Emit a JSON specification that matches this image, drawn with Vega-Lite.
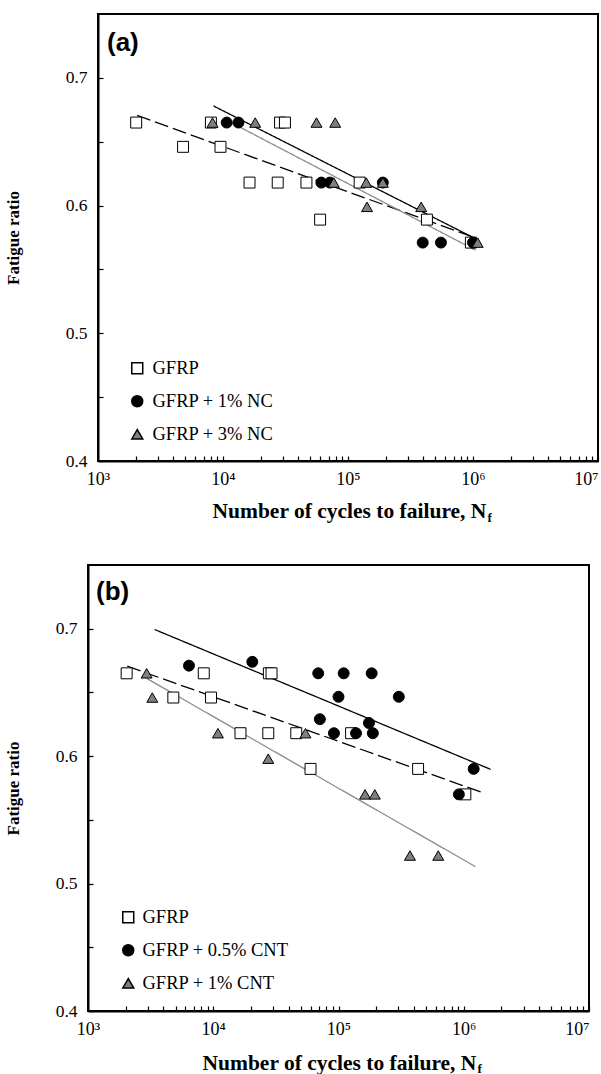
{
  "$schema": "https://vega.github.io/schema/vega-lite/v6.json",
  "background": "white",
  "padding": {"left": 3, "top": 11, "right": 0, "bottom": 0},
  "spacing": 39,
  "datasets": {
    "linesA": [
      {"s": "GFRP", "N": 2055, "r": 0.6706}, {"s": "GFRP", "N": 960000, "r": 0.576},
      {"s": "GFRP + 1% NC", "N": 8400, "r": 0.678}, {"s": "GFRP + 1% NC", "N": 1050000, "r": 0.574},
      {"s": "GFRP + 3% NC", "N": 11100, "r": 0.666}, {"s": "GFRP + 3% NC", "N": 1050000, "r": 0.565}
    ],
    "ptsA": [
      {"s": "GFRP", "N": 2020, "r": 0.665}, {"s": "GFRP", "N": 4790, "r": 0.646}, {"s": "GFRP", "N": 9550, "r": 0.646},
      {"s": "GFRP", "N": 8000, "r": 0.665}, {"s": "GFRP", "N": 28600, "r": 0.665}, {"s": "GFRP", "N": 31300, "r": 0.665},
      {"s": "GFRP", "N": 16300, "r": 0.618}, {"s": "GFRP", "N": 27400, "r": 0.618}, {"s": "GFRP", "N": 46500, "r": 0.618},
      {"s": "GFRP", "N": 59800, "r": 0.589}, {"s": "GFRP", "N": 124000, "r": 0.618}, {"s": "GFRP", "N": 428000, "r": 0.589},
      {"s": "GFRP", "N": 962000, "r": 0.571},
      {"s": "GFRP + 1% NC", "N": 10700, "r": 0.665}, {"s": "GFRP + 1% NC", "N": 13300, "r": 0.665},
      {"s": "GFRP + 1% NC", "N": 61200, "r": 0.618}, {"s": "GFRP + 1% NC", "N": 71500, "r": 0.618},
      {"s": "GFRP + 1% NC", "N": 190000, "r": 0.618}, {"s": "GFRP + 1% NC", "N": 396000, "r": 0.571},
      {"s": "GFRP + 1% NC", "N": 554000, "r": 0.571}, {"s": "GFRP + 1% NC", "N": 1000000, "r": 0.571},
      {"s": "GFRP + 3% NC", "N": 8250, "r": 0.665}, {"s": "GFRP + 3% NC", "N": 18100, "r": 0.665},
      {"s": "GFRP + 3% NC", "N": 56000, "r": 0.665}, {"s": "GFRP + 3% NC", "N": 79000, "r": 0.665},
      {"s": "GFRP + 3% NC", "N": 77000, "r": 0.618}, {"s": "GFRP + 3% NC", "N": 140000, "r": 0.618},
      {"s": "GFRP + 3% NC", "N": 190000, "r": 0.618}, {"s": "GFRP + 3% NC", "N": 142000, "r": 0.599},
      {"s": "GFRP + 3% NC", "N": 385000, "r": 0.599}, {"s": "GFRP + 3% NC", "N": 1090000, "r": 0.571}
    ],
    "linesB": [
      {"s": "GFRP", "N": 2060, "r": 0.6706}, {"s": "GFRP", "N": 1450000, "r": 0.571},
      {"s": "GFRP + 0.5% CNT", "N": 3400, "r": 0.6994}, {"s": "GFRP + 0.5% CNT", "N": 1640000, "r": 0.5896},
      {"s": "GFRP + 1% CNT", "N": 2940, "r": 0.661}, {"s": "GFRP + 1% CNT", "N": 1240000, "r": 0.5133}
    ],
    "ptsB": [
      {"s": "GFRP", "N": 2035, "r": 0.665}, {"s": "GFRP", "N": 8400, "r": 0.665}, {"s": "GFRP", "N": 27800, "r": 0.665},
      {"s": "GFRP", "N": 29200, "r": 0.665}, {"s": "GFRP", "N": 4800, "r": 0.646}, {"s": "GFRP", "N": 9600, "r": 0.646},
      {"s": "GFRP", "N": 16500, "r": 0.618}, {"s": "GFRP", "N": 27500, "r": 0.618}, {"s": "GFRP", "N": 46000, "r": 0.618},
      {"s": "GFRP", "N": 59800, "r": 0.59}, {"s": "GFRP", "N": 126000, "r": 0.618}, {"s": "GFRP", "N": 432000, "r": 0.59},
      {"s": "GFRP", "N": 1030000, "r": 0.57},
      {"s": "GFRP + 0.5% CNT", "N": 6400, "r": 0.671}, {"s": "GFRP + 0.5% CNT", "N": 20500, "r": 0.674},
      {"s": "GFRP + 0.5% CNT", "N": 68900, "r": 0.665}, {"s": "GFRP + 0.5% CNT", "N": 110000, "r": 0.665},
      {"s": "GFRP + 0.5% CNT", "N": 184000, "r": 0.665}, {"s": "GFRP + 0.5% CNT", "N": 100000, "r": 0.6466},
      {"s": "GFRP + 0.5% CNT", "N": 303000, "r": 0.6466}, {"s": "GFRP + 0.5% CNT", "N": 71000, "r": 0.629},
      {"s": "GFRP + 0.5% CNT", "N": 92000, "r": 0.618}, {"s": "GFRP + 0.5% CNT", "N": 138000, "r": 0.618},
      {"s": "GFRP + 0.5% CNT", "N": 175000, "r": 0.626}, {"s": "GFRP + 0.5% CNT", "N": 188000, "r": 0.618},
      {"s": "GFRP + 0.5% CNT", "N": 1200000, "r": 0.59}, {"s": "GFRP + 0.5% CNT", "N": 914000, "r": 0.57},
      {"s": "GFRP + 1% CNT", "N": 2940, "r": 0.665}, {"s": "GFRP + 1% CNT", "N": 3260, "r": 0.646},
      {"s": "GFRP + 1% CNT", "N": 10900, "r": 0.618}, {"s": "GFRP + 1% CNT", "N": 54500, "r": 0.618},
      {"s": "GFRP + 1% CNT", "N": 27500, "r": 0.598}, {"s": "GFRP + 1% CNT", "N": 163000, "r": 0.57},
      {"s": "GFRP + 1% CNT", "N": 195000, "r": 0.57}, {"s": "GFRP + 1% CNT", "N": 372000, "r": 0.522},
      {"s": "GFRP + 1% CNT", "N": 626000, "r": 0.522}
    ]
  },
  "vconcat": [
    {
      "bounds": "flush",
      "spacing": 9,
      "hconcat": [
        {
          "width": 1,
          "height": 1,
          "view": {"stroke": null},
          "data": {"values": [{"k": 0}]},
          "mark": {"type": "point", "opacity": 0}
        },
        {
          "width": 500,
          "height": 447,
          "title": {"text": "(a)", "anchor": "start", "frame": "group", "orient": "top", "offset": -42, "dx": 9, "font": "Liberation Sans", "fontSize": 26, "fontWeight": "bold", "color": "black"},
          "layer": [
            {
              "data": {"name": "linesA"},
              "mark": {"type": "line", "strokeWidth": 1.3},
              "encoding": {
                "x": {"field": "N", "type": "quantitative", "scale": {"type": "log", "domain": [1000, 10000000], "nice": false},
                  "axis": {"values": [1000,2000,3000,4000,5000,6000,7000,8000,9000,10000,20000,30000,40000,50000,60000,70000,80000,90000,100000,200000,300000,400000,500000,600000,700000,800000,900000,1000000,2000000,3000000,4000000,5000000,6000000,7000000,8000000,9000000,10000000],
                    "labelExpr": "datum.value == 1000 ? '10³' : datum.value == 10000 ? '10⁴' : datum.value == 100000 ? '10⁵' : datum.value == 1000000 ? '10⁶' : datum.value == 10000000 ? '10⁷' : ''",
                    "labelAlign": {"condition": {"test": "datum.value == 10000000", "value": "right"}, "value": "center"},
                    "labelFlush": false, "labelOverlap": false, "orient": "bottom", "grid": false,
                    "domainColor": "black", "domainWidth": 2, "tickColor": "black", "tickWidth": 1.2, "tickSize": -5,
                    "labelFont": "Liberation Serif", "labelFontSize": 18, "labelColor": "black", "labelPadding": 14,
                    "title": "Number of cycles to failure, N", "titleX": 114, "titleY": 56, "titleAlign": "left", "titleBaseline": "alphabetic",
                    "titleFont": "Liberation Serif", "titleFontWeight": "bold", "titleFontSize": 21.5, "titleColor": "black"}},
                "y": {"field": "r", "type": "quantitative", "scale": {"domain": [0.4, 0.75], "nice": false, "zero": false},
                  "axis": {"values": [0.4, 0.45, 0.5, 0.55, 0.6, 0.65, 0.7], "labelExpr": "abs(round(datum.value*10) - datum.value*10) < 0.01 ? format(datum.value, '.1f') : ''",
                    "labelFlush": false, "labelOverlap": false, "grid": false,
                    "domainColor": "black", "domainWidth": 2, "tickColor": "black", "tickWidth": 1.2, "tickSize": -5,
                    "labelFont": "Liberation Serif", "labelFontSize": 17.5, "labelColor": "black", "labelPadding": 16,
                    "title": "Fatigue ratio", "titleX": -76, "titleFont": "Liberation Serif", "titleFontWeight": "bold", "titleFontSize": 17, "titleColor": "black"}},
                "detail": {"field": "s"},
                "stroke": {"field": "s", "type": "nominal", "scale": {"domain": ["GFRP + 3% NC", "GFRP", "GFRP + 1% NC"], "range": ["#8c8c8c", "black", "black"]}, "legend": null},
                "strokeDash": {"field": "s", "type": "nominal", "scale": {"domain": ["GFRP + 3% NC", "GFRP", "GFRP + 1% NC"], "range": [[1, 0], [14, 5], [1, 0]]}, "legend": null}
              }
            },
            {
              "data": {"name": "ptsA"},
              "mark": {"type": "point", "filled": true, "opacity": 1, "stroke": "black", "strokeWidth": 1, "size": 120},
              "encoding": {
                "x": {"field": "N", "type": "quantitative",
                  "axis": {"orient": "bottom", "domain": false, "ticks": false, "labels": false, "grid": false, "title": "f", "titleX": 389, "titleY": 60, "titleAlign": "left", "titleBaseline": "alphabetic",
                    "titleFont": "Liberation Serif", "titleFontWeight": "bold", "titleFontSize": 13, "titleColor": "black"}},
                "y": {"field": "r", "type": "quantitative"},
                "shape": {"field": "s", "type": "nominal", "scale": {"domain": ["GFRP", "GFRP + 1% NC", "GFRP + 3% NC"], "range": ["square", "circle", "triangle-up"]},
                  "legend": {"title": null, "orient": "none", "legendX": 30, "legendY": 345, "rowPadding": 14, "padding": 0, "labelOffset": 6,
                    "labelFont": "Liberation Serif", "labelFontSize": 18.5, "labelColor": "black", "symbolSize": 120,
                    "encode": {"symbols": {"update": {"stroke": {"value": "black"}, "strokeWidth": {"value": 1}}}}}},
                "fill": {"field": "s", "type": "nominal", "scale": {"domain": ["GFRP", "GFRP + 1% NC", "GFRP + 3% NC"], "range": ["white", "black", "#7f7f7f"]},
                  "legend": {"title": null, "orient": "none", "legendX": 30, "legendY": 345, "rowPadding": 14, "padding": 0, "labelOffset": 6,
                    "labelFont": "Liberation Serif", "labelFontSize": 18.5, "labelColor": "black", "symbolSize": 120,
                    "encode": {"symbols": {"update": {"stroke": {"value": "black"}, "strokeWidth": {"value": 1}}}}}}
              }
            }
          ],
          "resolve": {"axis": {"x": "independent"}}
        }
      ],
      "resolve": {"scale": {"fill": "independent", "shape": "independent", "stroke": "independent", "strokeDash": "independent"}}
    },
    {
      "width": 501,
      "height": 446,
      "title": {"text": "(b)", "anchor": "start", "frame": "group", "orient": "top", "offset": -40, "dx": 8, "font": "Liberation Sans", "fontSize": 26, "fontWeight": "bold", "color": "black"},
      "layer": [
        {
          "data": {"name": "linesB"},
          "mark": {"type": "line", "strokeWidth": 1.3},
          "encoding": {
            "x": {"field": "N", "type": "quantitative", "scale": {"type": "log", "domain": [1000, 10000000], "nice": false},
              "axis": {"values": [1000,2000,3000,4000,5000,6000,7000,8000,9000,10000,20000,30000,40000,50000,60000,70000,80000,90000,100000,200000,300000,400000,500000,600000,700000,800000,900000,1000000,2000000,3000000,4000000,5000000,6000000,7000000,8000000,9000000,10000000],
                "labelExpr": "datum.value == 1000 ? '10³' : datum.value == 10000 ? '10⁴' : datum.value == 100000 ? '10⁵' : datum.value == 1000000 ? '10⁶' : datum.value == 10000000 ? '10⁷' : ''",
                "labelAlign": {"condition": {"test": "datum.value == 10000000", "value": "right"}, "value": "center"},
                "labelFlush": false, "labelOverlap": false, "orient": "bottom", "grid": false,
                "domainColor": "black", "domainWidth": 2, "tickColor": "black", "tickWidth": 1.2, "tickSize": -5,
                "labelFont": "Liberation Serif", "labelFontSize": 18, "labelColor": "black", "labelPadding": 14,
                "title": "Number of cycles to failure, N", "titleX": 114, "titleY": 58, "titleAlign": "left", "titleBaseline": "alphabetic",
                "titleFont": "Liberation Serif", "titleFontWeight": "bold", "titleFontSize": 21.5, "titleColor": "black"}},
            "y": {"field": "r", "type": "quantitative", "scale": {"domain": [0.4, 0.75], "nice": false, "zero": false},
              "axis": {"values": [0.4, 0.45, 0.5, 0.55, 0.6, 0.65, 0.7], "labelExpr": "abs(round(datum.value*10) - datum.value*10) < 0.01 ? format(datum.value, '.1f') : ''",
                "labelFlush": false, "labelOverlap": false, "grid": false,
                "domainColor": "black", "domainWidth": 2, "tickColor": "black", "tickWidth": 1.2, "tickSize": -5,
                "labelFont": "Liberation Serif", "labelFontSize": 17.5, "labelColor": "black", "labelPadding": 16,
                "title": "Fatigue ratio", "titleX": -66, "titleFont": "Liberation Serif", "titleFontWeight": "bold", "titleFontSize": 17, "titleColor": "black"}},
            "detail": {"field": "s"},
            "stroke": {"field": "s", "type": "nominal", "scale": {"domain": ["GFRP + 1% CNT", "GFRP", "GFRP + 0.5% CNT"], "range": ["#8c8c8c", "black", "black"]}, "legend": null},
            "strokeDash": {"field": "s", "type": "nominal", "scale": {"domain": ["GFRP + 1% CNT", "GFRP", "GFRP + 0.5% CNT"], "range": [[1, 0], [14, 5], [1, 0]]}, "legend": null}
          }
        },
        {
          "data": {"name": "ptsB"},
          "mark": {"type": "point", "filled": true, "opacity": 1, "stroke": "black", "strokeWidth": 1, "size": 120},
          "encoding": {
            "x": {"field": "N", "type": "quantitative",
              "axis": {"orient": "bottom", "domain": false, "ticks": false, "labels": false, "grid": false, "title": "f", "titleX": 389, "titleY": 61, "titleAlign": "left", "titleBaseline": "alphabetic",
                "titleFont": "Liberation Serif", "titleFontWeight": "bold", "titleFontSize": 13, "titleColor": "black"}},
            "y": {"field": "r", "type": "quantitative"},
            "shape": {"field": "s", "type": "nominal", "scale": {"domain": ["GFRP", "GFRP + 0.5% CNT", "GFRP + 1% CNT"], "range": ["square", "circle", "triangle-up"]},
              "legend": {"title": null, "orient": "none", "legendX": 31, "legendY": 343, "rowPadding": 14, "padding": 0, "labelOffset": 5,
                "labelFont": "Liberation Serif", "labelFontSize": 18.5, "labelColor": "black", "symbolSize": 120,
                "encode": {"symbols": {"update": {"stroke": {"value": "black"}, "strokeWidth": {"value": 1}}}}}},
            "fill": {"field": "s", "type": "nominal", "scale": {"domain": ["GFRP", "GFRP + 0.5% CNT", "GFRP + 1% CNT"], "range": ["white", "black", "#7f7f7f"]},
              "legend": {"title": null, "orient": "none", "legendX": 31, "legendY": 343, "rowPadding": 14, "padding": 0, "labelOffset": 5,
                "labelFont": "Liberation Serif", "labelFontSize": 18.5, "labelColor": "black", "symbolSize": 120,
                "encode": {"symbols": {"update": {"stroke": {"value": "black"}, "strokeWidth": {"value": 1}}}}}}
          }
        }
      ],
      "resolve": {"axis": {"x": "independent"}}
    }
  ],
  "resolve": {"scale": {"fill": "independent", "shape": "independent", "stroke": "independent", "strokeDash": "independent"}},
  "config": {
    "view": {"stroke": "black", "strokeWidth": 2}
  }
}
